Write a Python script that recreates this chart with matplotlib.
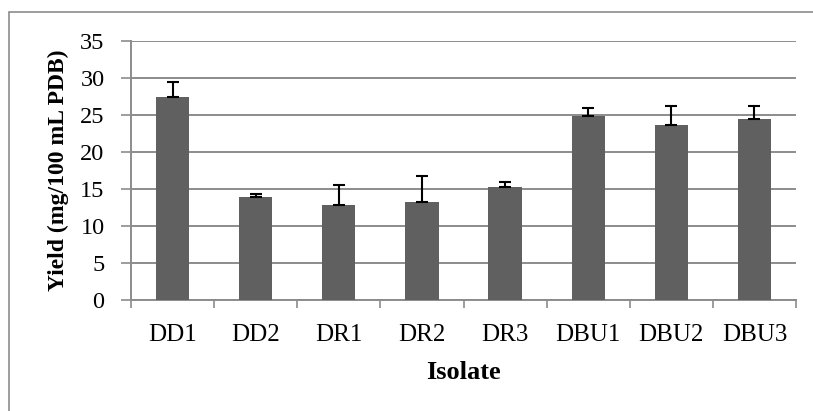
import matplotlib.pyplot as plt
import matplotlib.patches as mpatches

isolates = ["DD1", "DD2", "DR1", "DR2", "DR3", "DBU1", "DBU2", "DBU3"]
yield_mean = [27.4, 13.9, 12.9, 13.2, 15.3, 24.9, 23.7, 24.4]
yield_err = [2.0, 0.4, 2.6, 3.5, 0.7, 1.1, 2.5, 1.8]

plt.rcParams['font.family'] = ['Liberation Serif', 'DejaVu Serif']

W, H = 813, 411
fig = plt.figure(figsize=(W / 100, H / 100), dpi=100)

# outer chart border (cropped at right and bottom)
fig.patches.append(mpatches.Rectangle((9 / W, -0.1), 1.2, 1 - 12 / H + 0.1,
                                      transform=fig.transFigure, fill=False,
                                      edgecolor='#8c8c8c', linewidth=1.2))

ax = fig.add_axes([131 / W, 1 - 300 / H, (796 - 131) / W, (300 - 41) / H])

x = range(len(isolates))
ax.bar(x, yield_mean, width=0.4, color='#606060', zorder=3,
       yerr=[[0] * len(yield_err), yield_err],
       error_kw=dict(ecolor='black', elinewidth=1.5, capsize=4.5, capthick=1.5))

ax.set_xlim(-0.5, len(isolates) - 0.5)
ax.set_ylim(0, 35)
ax.set_yticks(range(0, 36, 5))
ax.yaxis.grid(True, color='#8c8c8c', linewidth=1.4, zorder=0)
ax.set_axisbelow(True)

ax.set_xticks([i - 0.5 for i in range(len(isolates) + 1)])
ax.set_xticklabels([])
ax.set_xticks(list(x), minor=True)
ax.set_xticklabels(isolates, minor=True, fontsize=18)
ax.tick_params(axis='x', which='major', length=6, color='#8c8c8c', width=1.2)
ax.tick_params(axis='x', which='minor', length=0, pad=17)
ax.tick_params(axis='y', length=7, color='#8c8c8c', width=1.2, labelsize=17.5, pad=12)

for s in ['top', 'right']:
    ax.spines[s].set_visible(False)
for s in ['left', 'bottom']:
    ax.spines[s].set_color('#8c8c8c')
    ax.spines[s].set_linewidth(1.4)

ax.set_ylabel("Yield (mg/100 mL PDB)", fontsize=17, fontweight='bold', labelpad=8)
ax.set_xlabel("Isolate", fontsize=19, fontweight='bold', labelpad=11)

fig.savefig("out.png", dpi=100)
